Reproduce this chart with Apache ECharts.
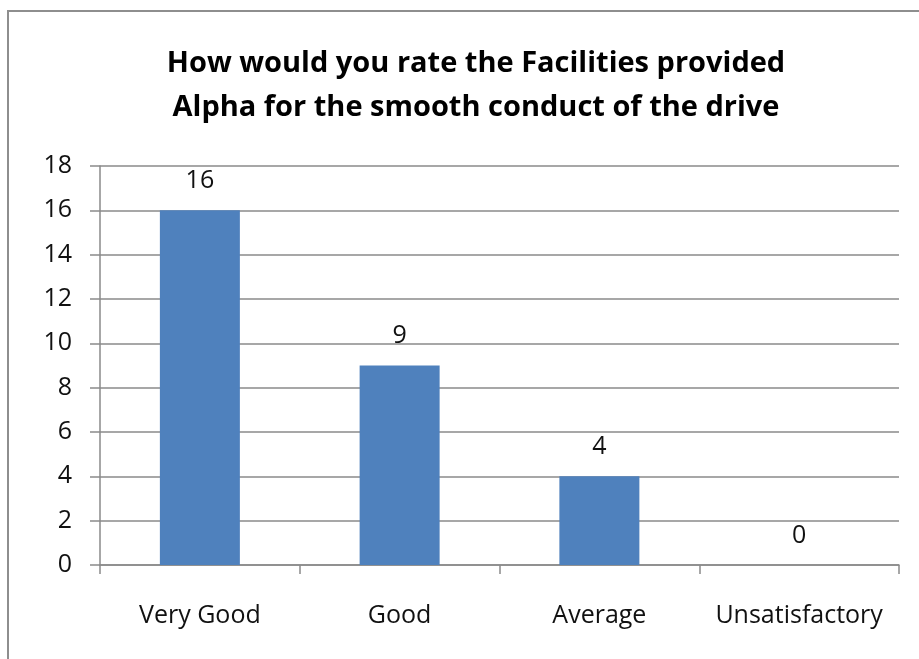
<!DOCTYPE html>
<html>
<head>
<meta charset="utf-8">
<script src="https://cdn.jsdelivr.net/npm/echarts@6/dist/echarts.min.js"></script>
<style>
  html, body { margin: 0; padding: 0; background: #fff; }
  #wrap { position: relative; width: 919px; height: 659px; overflow: hidden; }
  #chart { position: absolute; left: 0; top: 0; width: 919px; height: 659px; }
  #frame { position: absolute; left: 7px; top: 10px; width: 930px; height: 670px;
           border-left: 2px solid #8e8e8e; border-top: 2px solid #8e8e8e; pointer-events: none; }
</style>
</head>
<body>
<div id="wrap">
  <div id="chart"></div>
  <div id="frame"></div>
</div>
<script>
const categories = ['Very Good', 'Good', 'Average', 'Unsatisfactory'];
const counts = [16, 9, 4, 0];
const titleText = 'How would you rate the Facilities provided\nAlpha for the smooth conduct of the drive';

const fontFamily = 'Open Sans, Liberation Sans, sans-serif';
const gridColor = '#8a8a8a';

const chart = echarts.init(document.getElementById('chart'));
chart.setOption({
  animation: false,
  backgroundColor: '#fff',
  title: {
    text: titleText,
    left: 471,
    textAlign: 'center',
    top: 37,
    textStyle: {
      fontFamily: fontFamily,
      fontWeight: 'bold',
      fontSize: 29,
      lineHeight: 44,
      color: '#000'
    }
  },
  grid: {
    left: 100,
    right: 20,
    top: 166,
    bottom: 94
  },
  xAxis: {
    type: 'category',
    data: categories,
    axisLine: { lineStyle: { color: gridColor, width: 1.5 } },
    axisTick: { show: true, interval: 0, length: 9, lineStyle: { color: gridColor, width: 1.5 } },
    axisLabel: {
      interval: 0,
      fontFamily: fontFamily,
      fontSize: 25,
      color: '#111',
      margin: 38
    }
  },
  yAxis: {
    type: 'value',
    min: 0,
    max: 18,
    interval: 2,
    axisLine: { show: true, lineStyle: { color: gridColor, width: 1.5 } },
    axisTick: { show: true, length: 10, lineStyle: { color: gridColor, width: 1.5 } },
    splitLine: { show: true, lineStyle: { color: gridColor, width: 1.5 } },
    axisLabel: {
      fontFamily: fontFamily,
      fontSize: 25,
      color: '#111',
      margin: 28
    }
  },
  series: [{
    type: 'bar',
    data: counts,
    barWidth: 80,
    itemStyle: { color: '#4f81bd' },
    label: {
      show: true,
      position: 'top',
      distance: 17,
      fontFamily: fontFamily,
      fontSize: 25,
      color: '#111'
    }
  }]
});
</script>
</body>
</html>
